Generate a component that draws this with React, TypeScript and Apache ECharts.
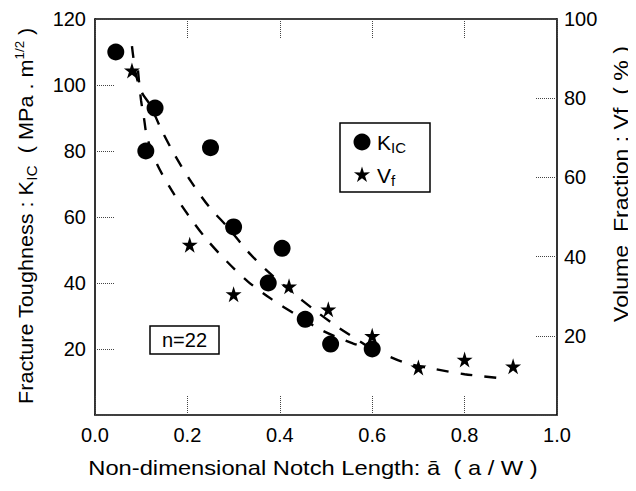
import React, { useEffect, useRef } from "react";
import * as echarts from "echarts";

// K_IC data (left axis, MPa·m^1/2)
const kicX = [0.045, 0.13, 0.11, 0.25, 0.3, 0.405, 0.375, 0.455, 0.51, 0.6];
const kicY = [110, 93, 80, 81, 57, 50.5, 40, 29, 21.5, 20];

// Vf data (right axis, %)
const vfX = [0.08, 0.205, 0.3, 0.42, 0.505, 0.6, 0.7, 0.8, 0.905];
const vfY = [87, 43, 30.5, 32.5, 26.7, 20, 12, 14, 12.3];

// dashed fit for K_IC (left axis)
const kicFitX = [0.08, 0.089, 0.102, 0.119, 0.145, 0.175, 0.208, 0.247, 0.288, 0.331, 0.374, 0.424, 0.476, 0.526, 0.6];
const kicFitY = [111.8, 103, 97.6, 94, 86.1, 78.2, 70.7, 63.1, 56.8, 49.5, 43.5, 37.5, 31.7, 26.6, 19.9];

// dashed fit for Vf (right axis)
const vfFitX = [0.093, 0.0996, 0.106, 0.1126, 0.134, 0.1667, 0.203, 0.242, 0.286, 0.331, 0.383, 0.437, 0.491, 0.558, 0.6, 0.673, 0.736, 0.8, 0.877];
const vfFitY = [87, 79.5, 75, 70.2, 63.4, 56.6, 50.3, 44.3, 38.7, 33.7, 29.2, 25.2, 21.4, 18.1, 16.6, 13.1, 11.6, 10.3, 9.3];

const xTicks = { min: 0, max: 1, interval: 0.2 };
const leftTicks = { min: 0, max: 120, interval: 20 };
const rightTicks = { min: 0, max: 100, interval: 20 };

const STAR =
  "path://M100,0 L122.35,69.26 L195.1,69.1 L136.14,111.75 L158.8,180.9 L100,138 L41.2,180.9 L63.86,111.75 L4.9,69.1 L77.65,69.26 Z";

function starPoints(cx: number, cy: number, r: number): number[][] {
  const pts: number[][] = [];
  for (let k = 0; k < 10; k++) {
    const a = ((-90 + k * 36) * Math.PI) / 180;
    const rr = k % 2 === 0 ? r : r * 0.38;
    pts.push([cx + rr * Math.cos(a), cy + rr * Math.sin(a)]);
  }
  return pts;
}

const FONT = "'Liberation Sans', Arial, Helvetica, sans-serif";

export default function App() {
  const ref = useRef<HTMLDivElement>(null);
  useEffect(() => {
    if (!ref.current) return;
    const chart = echarts.init(ref.current, undefined, { renderer: "svg" });
    const tickStyle = { type: "dotted" as const, color: "#444", width: 1 };
    const axisLine = { show: true, onZero: false, lineStyle: { color: "#000", width: 1.6 } };
    const label = { color: "#000", fontSize: 20, fontFamily: FONT };
    const rich = {
      n: { fontSize: 21, fontFamily: FONT, color: "#000", lineHeight: 26, verticalAlign: "middle" },
      s: { fontSize: 15, fontFamily: FONT, color: "#000", lineHeight: 26, verticalAlign: "bottom" },
      p: { fontSize: 13, fontFamily: FONT, color: "#000", lineHeight: 26, verticalAlign: "top" },
    };
    chart.setOption({
      animation: false,
      backgroundColor: "#fff",
      grid: { left: 95, right: 79, top: 19, bottom: 76 },
      xAxis: [
        {
          type: "value",
          position: "bottom",
          ...xTicks,
          axisLine,
          axisTick: { show: true, inside: true, length: 20, lineStyle: tickStyle },
          axisLabel: { ...label, margin: 10, formatter: (v: number) => v.toFixed(1) },
          splitLine: { show: false },
        },
        {
          type: "value",
          position: "top",
          ...xTicks,
          axisLine,
          axisTick: { show: true, inside: true, length: 20, lineStyle: tickStyle },
          axisLabel: { show: false },
          splitLine: { show: false },
        },
      ],
      yAxis: [
        {
          type: "value",
          position: "left",
          ...leftTicks,
          axisLine,
          axisTick: { show: true, inside: true, length: 20, lineStyle: tickStyle },
          axisLabel: { ...label, margin: 9, formatter: (v: number) => (v === 0 ? "" : String(v)) },
          splitLine: { show: false },
        },
        {
          type: "value",
          position: "right",
          ...rightTicks,
          axisLine,
          axisTick: { show: true, inside: true, length: 22, lineStyle: tickStyle },
          axisLabel: { ...label, margin: 7, formatter: (v: number) => (v === 0 ? "" : String(v)) },
          splitLine: { show: false },
        },
      ],
      series: [
        {
          type: "line",
          yAxisIndex: 0,
          data: kicFitX.map((x, i) => [x, kicFitY[i]]),
          smooth: 0.3,
          symbol: "none",
          lineStyle: { color: "#000", width: 2.4, type: [12, 12] },
          z: 2,
        },
        {
          type: "line",
          yAxisIndex: 1,
          data: vfFitX.map((x, i) => [x, vfFitY[i]]),
          smooth: 0.3,
          symbol: "none",
          lineStyle: { color: "#000", width: 2.4, type: [12, 12] },
          z: 2,
        },
        {
          type: "scatter",
          yAxisIndex: 0,
          data: kicX.map((x, i) => [x, kicY[i]]),
          symbol: "circle",
          symbolSize: 17,
          itemStyle: { color: "#000", opacity: 1 },
          z: 3,
        },
        {
          type: "scatter",
          yAxisIndex: 1,
          data: vfX.map((x, i) => [x, vfY[i]]),
          symbol: STAR,
          symbolSize: 16,
          itemStyle: { color: "#000", opacity: 1 },
          z: 3,
        },
      ],
      graphic: [
        // legend box
        {
          type: "rect",
          shape: { x: 340, y: 123, width: 90, height: 69 },
          style: { fill: "none", stroke: "#000", lineWidth: 1.5 },
        },
        { type: "circle", shape: { cx: 362, cy: 142, r: 8.5 }, style: { fill: "#000" } },
        { type: "polygon", shape: { points: starPoints(362, 175, 8.5) }, style: { fill: "#000" } },
        {
          type: "text",
          x: 377,
          y: 142,
          style: { text: "{n|K}{s|IC}", rich, verticalAlign: "middle", align: "left" },
        },
        {
          type: "text",
          x: 377,
          y: 175,
          style: { text: "{n|V}{s|f}", rich, verticalAlign: "middle", align: "left" },
        },
        // n=22 box
        {
          type: "rect",
          shape: { x: 150, y: 326, width: 69, height: 28 },
          style: { fill: "none", stroke: "#000", lineWidth: 1.5 },
        },
        {
          type: "text",
          x: 184.5,
          y: 340,
          style: { text: "n=22", fontSize: 20, fontFamily: FONT, fill: "#000", align: "center", verticalAlign: "middle" },
        },
        // axis titles
        {
          type: "text",
          x: 313,
          y: 468,
          scaleX: 1.13,
          style: {
            text: "{n|Non-dimensional Notch Length: ā  ( a / W )}",
            rich,
            align: "center",
            verticalAlign: "middle",
          },
        },
        {
          type: "text",
          x: 26,
          y: 216,
          rotation: Math.PI / 2,
          scaleX: 1.03,
          style: {
            text: "{n|Fracture Toughness : K}{s|IC}{n|  ( MPa . m}{p|1/2}{n| )}",
            rich,
            align: "center",
            verticalAlign: "middle",
          },
        },
        {
          type: "text",
          x: 621,
          y: 184,
          rotation: Math.PI / 2,
          scaleX: 1.1,
          style: {
            text: "{n|Volume  Fraction : Vf  ( % )}",
            rich,
            align: "center",
            verticalAlign: "middle",
          },
        },
      ],
    });
    return () => chart.dispose();
  }, []);
  return <div ref={ref} style={{ width: 636, height: 491, margin: -8 }} />;
}
